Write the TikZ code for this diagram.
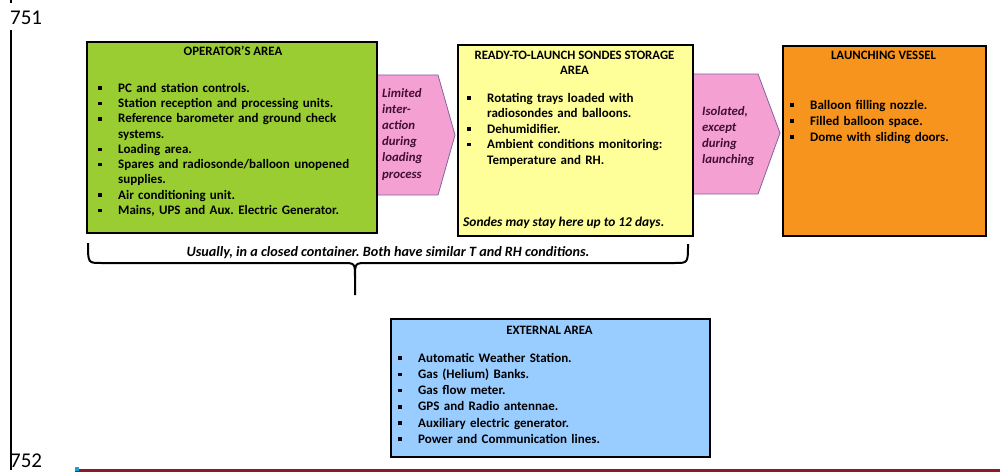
\documentclass[tikz,border=0pt]{standalone}
\usepackage{fontspec}
\setmainfont{Carlito}
\usetikzlibrary{positioning,calc}
\definecolor{opgreen}{RGB}{154,205,50}
\definecolor{storeyellow}{RGB}{255,255,153}
\definecolor{vesselorange}{RGB}{247,148,29}
\definecolor{extblue}{RGB}{153,204,255}
\definecolor{tippink}{RGB}{245,160,210}
\definecolor{tipedge}{RGB}{128,100,162}
\definecolor{tiptxt}{RGB}{65,15,50}
\definecolor{pagered}{RGB}{140,25,40}
\newlength{\bind}\setlength{\bind}{20pt}
\newcommand{\bitem}[1]{\noindent\hangindent=\bind\hangafter=1\makebox[\bind][l]{\rule{0pt}{10pt}\raisebox{2.2pt}{\rule{3.6pt}{3.6pt}}}#1\par}
\frenchspacing
\tikzstyle{area}=[draw,line width=2pt,inner sep=0pt,anchor=north west]
\tikzstyle{ttl}=[font=\bfseries\fontsize{12.8}{15}\selectfont,inner sep=0pt,anchor=base]
\tikzstyle{tip}=[fill=tippink,draw=tipedge,line width=0.8pt]
\tikzstyle{tiptext}=[font=\bfseries\itshape\fontsize{12.8}{16.2}\selectfont,text=tiptxt,inner sep=0pt,anchor=north west,align=left]
\tikzstyle{brc}=[line width=2pt]
\tikzset{lst/.style={font=\bfseries\fontsize{13}{#1}\selectfont,inner sep=0pt,anchor=north west,text width=300pt,align=left}}
\begin{document}
\begin{tikzpicture}[x=1pt,y=-1pt]
  \useasboundingbox (0,0) rectangle (1000,473);
  \node[anchor=base west,inner sep=0pt,font=\fontsize{21}{24}\selectfont] (lnA) at (10,25) {751};
  \node[anchor=base west,inner sep=0pt,font=\fontsize{21}{24}\selectfont] (lnB) at (10,467) {752};
  \draw[line width=1.4pt] (11,0) -- (11,3);
  \draw[line width=1.4pt] (11,30) -- (11,470);
  \draw[pagered,line width=2.8pt] (75,470.5) -- (1000,470.5);
  \fill[cyan!70!teal] (75,467) rectangle (79,471);

  \draw[tip] (376,75) -- (438,75) -- (455,135) -- (438,195) -- (376,195) -- cycle;
  \draw[tip] (690,74) -- (758,74) -- (780,133) -- (758,194) -- (690,194) -- cycle;
  \node[tiptext] (tipA) at (382,87) {\rule{0pt}{10pt}Limited\\inter-\\action\\during\\loading\\process};
  \node[tiptext] (tipB) at (702,105) {\rule{0pt}{10pt}Isolated,\\except\\during\\launching};

  \node[area,fill=opgreen,minimum width=290pt,minimum height=191pt] (opBox) at (86,41) {};
  \node[ttl] (opTtl) at (233,56) {OPERATOR’S AREA};
  \node[lst=15.3] (opLst) at (98,82) {%
    \bitem{PC and station controls.}
    \bitem{Station reception and processing units.}
    \bitem{Reference barometer and ground check\newline systems.}
    \bitem{Loading area.}
    \bitem{Spares and radiosonde/balloon unopened\newline supplies.}
    \bitem{Air conditioning unit.}
    \bitem{Mains, UPS and Aux. Electric Generator.}};

  \node[area,fill=storeyellow,minimum width=235pt,minimum height=191pt] (stBox) at (457,44) {};
  \node[ttl,align=center,anchor=north] (stTtl) at (574.5,49) {\rule{0pt}{10pt}READY-TO-LAUNCH SONDES STORAGE\\AREA};
  \node[lst=15.5] (stLst) at (467,92) {%
    \bitem{Rotating trays loaded with\newline radiosondes and balloons.}
    \bitem{Dehumidifier.}
    \bitem{Ambient conditions monitoring:\newline Temperature and RH.}};
  \node[ttl,font=\bfseries\itshape\fontsize{13.4}{15}\selectfont,anchor=base west] (stNote) at (463,226) {Sondes may stay here up to 12 days.};

  \node[area,fill=vesselorange,minimum width=203pt,minimum height=190pt] (lvBox) at (782,45) {};
  \node[ttl] (lvTtl) at (883.5,60) {LAUNCHING VESSEL};
  \node[lst=16] (lvLst) at (790,99) {%
    \bitem{Balloon filling nozzle.}
    \bitem{Filled balloon space.}
    \bitem{Dome with sliding doors.}};

  \draw[brc] (88,243) .. controls (88,263) .. (101,263) -- (342,263) .. controls (355,263) .. (355,277) -- (355,295);
  \draw[brc] (688,244) .. controls (688,263) .. (675,263) -- (368,263) .. controls (355,263) .. (355,277);
  \node[ttl,font=\bfseries\itshape\fontsize{14.2}{16}\selectfont] (brTxt) at (388,256) {Usually, in a closed container. Both have similar T and RH conditions.};

  \node[area,fill=extblue,minimum width=319pt,minimum height=138pt] (exBox) at (390,318) {};
  \node[ttl] (exTtl) at (549.5,334) {EXTERNAL AREA};
  \node[lst=16.2] (exLst) at (398,352) {%
    \bitem{Automatic Weather Station.}
    \bitem{Gas (Helium) Banks.}
    \bitem{Gas flow meter.}
    \bitem{GPS and Radio antennae.}
    \bitem{Auxiliary electric generator.}
    \bitem{Power and Communication lines.}};
\end{tikzpicture}
\end{document}
